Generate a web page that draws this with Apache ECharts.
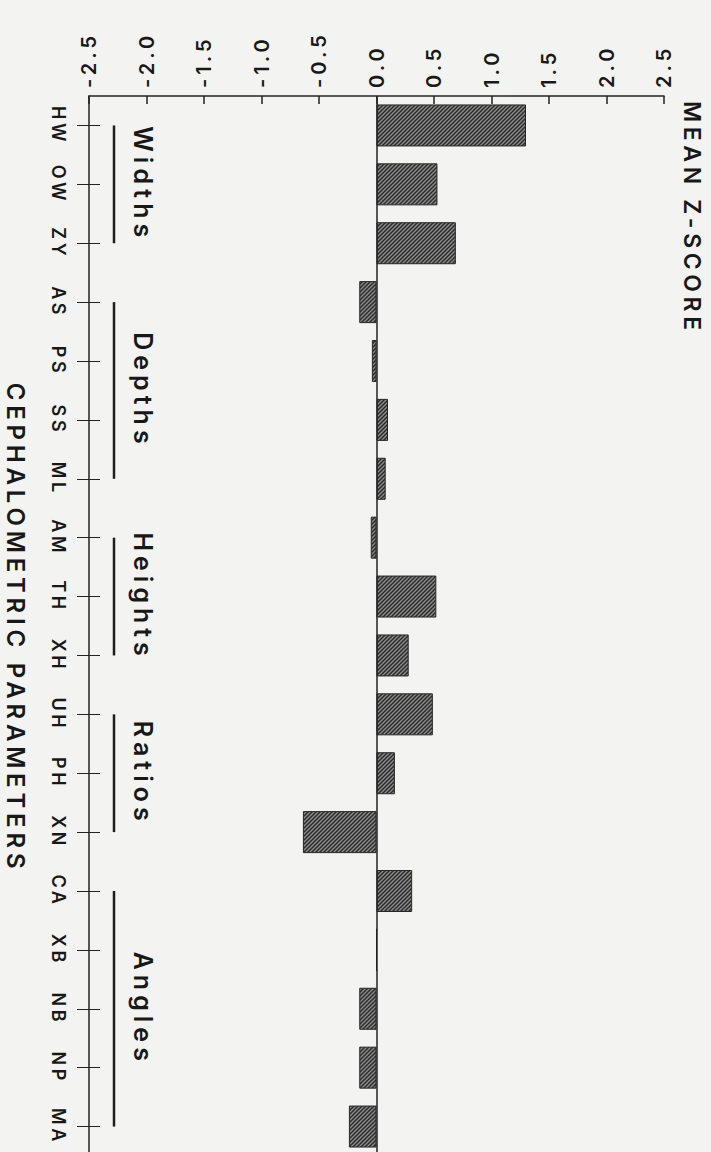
<!DOCTYPE html>
<html><head><meta charset="utf-8">
<script src="https://cdn.jsdelivr.net/npm/echarts@6/dist/echarts.min.js"></script>
<style>
html,body{margin:0;padding:0;background:#f3f3f1;}
#main{width:711px;height:1152px;}
#main text{letter-spacing:0.2em;}
</style></head><body><div id="main"></div>
<script>
const categories = ['HW','OW','ZY','AS','PS','SS','ML','AM','TH','XH','UH','PH','XN','CA','XB','NB','NP','MA'];
const meanZ = [1.30,0.53,0.69,-0.15,-0.04,0.10,0.08,-0.05,0.52,0.28,0.49,0.16,-0.64,0.31,0,-0.15,-0.15,-0.24];
const groupNames = ['Widths','Depths','Heights','Ratios','Angles'];
const groupFirst = ['HW','AS','AM','UH','CA'];
const groupLast = ['ZY','ML','XH','XN','MA'];
const valueMin = -2.5, valueMax = 2.5, valueStep = 0.5;
const valueTitle = 'MEAN Z-SCORE';
const categoryTitle = 'CEPHALOMETRIC PARAMETERS';

const FONT = 'Inter, "DejaVu Sans", sans-serif';
const W = 600;
const INK = '#181818';

// hatch pattern
const hatch = document.createElement('canvas');
hatch.width = 4; hatch.height = 4;
(function(){
  const c = hatch.getContext('2d');
  c.fillStyle = '#8e8e8e'; c.fillRect(0,0,4,4);
  c.strokeStyle = '#2b2b2b'; c.lineWidth = 1.5;
  c.beginPath();
  c.moveTo(-1,5); c.lineTo(5,-1);
  c.moveTo(-1,1); c.lineTo(1,-1);
  c.moveTo(3,5); c.lineTo(5,3);
  c.stroke();
})();

const chart = echarts.init(document.getElementById('main'), null, {renderer:'svg'});
chart.setOption({
  animation:false,
  backgroundColor:'#f3f3f1',
  grid:{left:89, right:47, top:96, height:1060, containLabel:false, outerBoundsMode:'none'},
  xAxis:{
    type:'value', position:'top', min:valueMin, max:valueMax, interval:valueStep,
    axisLine:{show:true, onZero:false, lineStyle:{color:'#222', width:1.5}},
    axisTick:{show:true, inside:true, length:8, lineStyle:{color:'#222', width:1.5}},
    axisLabel:{rotate:-90, margin:8, fontFamily:FONT, fontWeight:W, fontSize:20, color:INK, showMinLabel:true, showMaxLabel:true, hideOverlap:false,
      formatter:v=>v.toFixed(1)},
    splitLine:{show:false}
  },
  yAxis:[{
    type:'category', data:categories, inverse:true, position:'left',
    axisLine:{show:true, onZero:false, lineStyle:{color:'#222', width:1.5}},
    axisTick:{show:true, alignWithLabel:true, length:12, lineStyle:{color:'#222', width:1}},
    axisLabel:{rotate:-90, margin:22, fontFamily:FONT, fontWeight:W, fontSize:18, color:INK, interval:0, hideOverlap:false},
    splitLine:{show:false}
  },{
    type:'category', data:categories, inverse:true, position:'left',
    axisLine:{show:false, onZero:false},
    axisTick:{show:true, inside:true, alignWithLabel:true, length:11, lineStyle:{color:'#222', width:1}},
    axisLabel:{show:false},
    splitLine:{show:false}
  }],
  series:[{
    type:'bar', yAxisIndex:0, data:meanZ, barWidth:42,
    itemStyle:{color:{image:hatch, repeat:'repeat'}, borderColor:'#262626', borderWidth:1},
    markLine:{silent:true, symbol:'none', label:{show:false},
      lineStyle:{color:'#222', width:1.5, type:'solid'}, data:[{xAxis:0}]}
  }]
});

const axisX = chart.convertToPixel({xAxisIndex:0}, valueMin);
const graphics = [];
groupNames.forEach((name,i)=>{
  const y1 = chart.convertToPixel({yAxisIndex:0}, categories.indexOf(groupFirst[i]));
  const y2 = chart.convertToPixel({yAxisIndex:0}, categories.indexOf(groupLast[i]));
  graphics.push({type:'line', silent:true, shape:{x1:axisX+25, y1:y1, x2:axisX+25, y2:y2},
    style:{stroke:'#1e1e1e', lineWidth:2.5}});
  graphics.push({type:'text', silent:true, x:axisX+54, y:(y1+y2)/2, rotation:-Math.PI/2,
    style:{text:name, font:W + ' 25px ' + FONT, fill:INK, align:'center', verticalAlign:'middle', textAlign:'center', textVerticalAlign:'middle'}});
});
graphics.push({type:'text', silent:true, x:692, y:101, rotation:-Math.PI/2,
  style:{text:valueTitle, font:W + ' 23px ' + FONT, fill:INK, align:'left', verticalAlign:'middle', textAlign:'left', textVerticalAlign:'middle'}});
graphics.push({type:'text', silent:true, x:15, y:628, rotation:-Math.PI/2,
  style:{text:categoryTitle, font:W + ' 24px ' + FONT, fill:INK, align:'center', verticalAlign:'middle', textAlign:'center', textVerticalAlign:'middle'}});
chart.setOption({graphic:graphics});
</script></body></html>
